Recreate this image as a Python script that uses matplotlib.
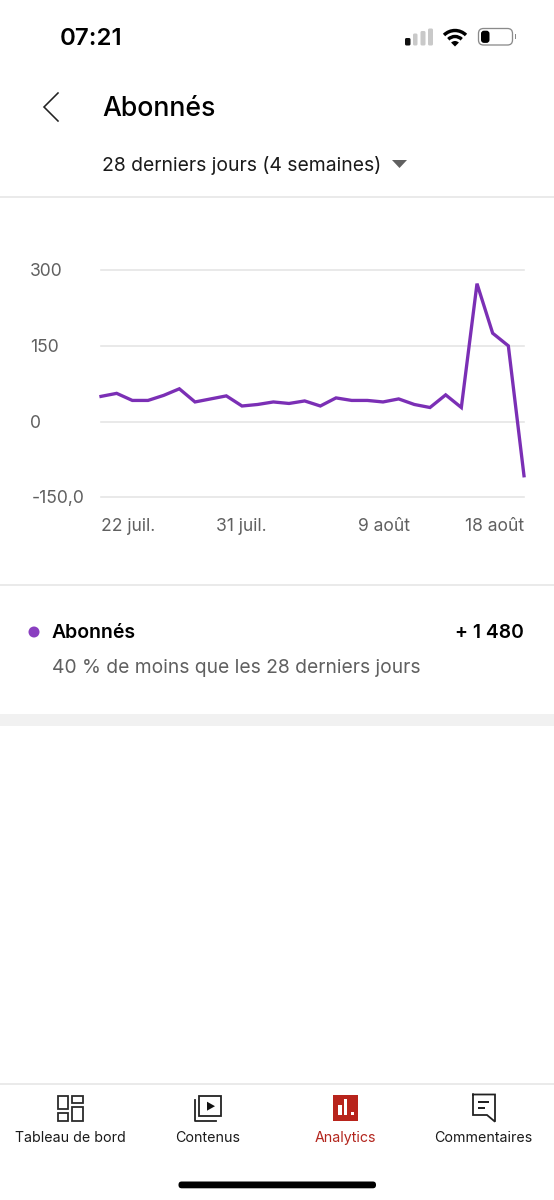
import matplotlib
matplotlib.use("Agg")
import matplotlib.pyplot as plt
from matplotlib.patches import Rectangle, FancyBboxPatch, Circle, Polygon, Wedge, Arc

# ---- data
subscribers = [50, 56, 42, 42, 52, 65, 39, 45, 51, 31, 34, 39, 36, 41,
               31, 47, 42, 42, 39, 45, 34, 28, 53, 28, 273, 175, 150, -107]
y_ticks = [-150, 0, 150, 300]
y_labels = ["-150,0", "0", "150", "300"]
x_labels = ["22 juil.", "31 juil.", "9 août", "18 août"]
x_label_px = [101, 216, 358, 465]
nav_labels = ["Tableau de bord", "Contenus", "Analytics", "Commentaires"]
nav_centers = [70, 208, 345.5, 483]

FONT = "Inter"
plt.rcParams["font.family"] = [FONT, "DejaVu Sans"]
W, H = 554, 1200
fig = plt.figure(figsize=(W/100, H/100), dpi=100, facecolor="white")

# overlay in pixel coordinates
ui = fig.add_axes([0, 0, 1, 1], zorder=1)
ui.set_xlim(0, W); ui.set_ylim(H, 0); ui.axis("off")
px = 0.72  # points per pixel

def fs(p):
    return p * px

GREY = "#606060"; RULE = "#e4e4e4"; RED = "#b3261e"

# status bar
ui.text(60, 39, "07:21", fontsize=fs(24), fontweight="semibold", color="black", va="center", ha="left")
for x, w, top, c in [(405, 5.5, 38, "#111111"), (413, 4.5, 33.5, "#c9c9c9"), (420.5, 5, 31, "#c9c9c9"), (428, 5, 28.5, "#c9c9c9")]:
    ui.add_patch(FancyBboxPatch((x, top), w, 45.5-top, boxstyle="round,pad=0,rounding_size=1.5", fc=c, ec="none"))
# wifi
for r in [15.5, 9.5]:
    ui.add_patch(Arc((455, 46), r*2, r*2, theta1=225, theta2=315, lw=3.4*px, color="black"))
ui.add_patch(Wedge((455, 46.5), 5.5, 225, 315, fc="black", ec="none"))
# battery
ui.add_patch(FancyBboxPatch((478.5, 28.5), 34, 16.5, boxstyle="round,pad=0,rounding_size=5", fc="white", ec="#8a8a8a", lw=1.3*px))
ui.add_patch(FancyBboxPatch((481, 30.7), 8.5, 12.2, boxstyle="round,pad=0,rounding_size=3", fc="black", ec="none"))
ui.add_patch(Rectangle((514.5, 34), 1.8, 5, fc="#8a8a8a", ec="none"))

# header
ui.plot([58, 44, 58], [93, 107, 121], color="#222222", lw=1.6*px, solid_joinstyle="miter")
ui.text(102, 109, "Abonnés", fontsize=fs(26.7), fontweight="medium", color="black", va="center", ha="left")
ui.text(102.5, 165.5, "28 derniers jours (4 semaines)", fontsize=fs(19.3), color="#1a1a1a", va="center", ha="left")
ui.add_patch(Polygon([(392, 160), (407, 160), (399.5, 168)], fc="#606060", ec="none"))

# rules / bands
ui.plot([0, W], [196.5, 196.5], color=RULE, lw=1.5*px)
ui.plot([0, W], [584.5, 584.5], color=RULE, lw=1.5*px)
ui.add_patch(Rectangle((0, 714), W, 11.5, fc="#f1f1f1", ec="none"))
ui.plot([0, W], [1084, 1084], color=RULE, lw=1.5*px)

# chart
x0, x1, ytop, ybot = 101, 524, 270, 497.5
ax = fig.add_axes([x0/W, 1-ybot/H, (x1-x0)/W, (ybot-ytop)/H], zorder=2)
ax.patch.set_alpha(0)
ax.plot(range(len(subscribers)), subscribers, color="#7b2fb5", lw=3.3*px, solid_joinstyle="miter", clip_on=False, zorder=3)
ax.set_xlim(0, len(subscribers)-1)
ax.set_ylim(-150, 300)
ax.set_yticks(y_ticks)
ax.set_yticklabels([])
ax.set_xticks([])
ax.yaxis.grid(True, color=RULE, lw=1.6*px)
for g in ax.get_ygridlines():
    g.set_clip_on(False)
ax.set_axisbelow(True)
ax.tick_params(length=0)
for s in ax.spines.values():
    s.set_visible(False)
for v, lab in zip(y_ticks, y_labels):
    ypx = ytop + (300-v)/450*(ybot-ytop)
    ui.text(30 if v >= 0 else 32, ypx + 1.5, lab, fontsize=fs(17.5), color=GREY, va="center", ha="left")
for xp, lab in zip(x_label_px, x_labels):
    ui.text(xp, 526.5, lab, fontsize=fs(17.5), color=GREY, va="center", ha="left")

# legend row
ui.add_patch(Circle((34, 632), 5.5, fc="#8a3fc0", ec="none"))
ui.text(51.5, 633, "Abonnés", fontsize=fs(19.5), fontweight="semibold", color="black", va="center", ha="left")
ui.text(524, 633, "+ 1 480", fontsize=fs(19.3), fontweight="semibold", color="black", va="center", ha="right")
ui.text(51.5, 668, "40 % de moins que les 28 derniers jours", fontsize=fs(19.25), color=GREY, va="center", ha="left")

# bottom nav
for lab, c in zip(nav_labels, nav_centers):
    ui.text(c, 1138, lab, fontsize=fs(14.2), color=RED if lab == "Analytics" else "#1a1a1a", va="center", ha="center")

ILW = 1.8*px
# dashboard
for (x, y, w, h) in [(57.6, 1095.7, 10.4, 13.6), (72.4, 1095.7, 10.6, 7), (57.6, 1112.7, 10.4, 8), (72.4, 1107.3, 10.6, 13.4)]:
    ui.add_patch(Rectangle((x, y), w, h, fc="none", ec="#2a2a2a", lw=ILW))
# content
ui.add_patch(Rectangle((199, 1095.7), 22, 20.3, fc="none", ec="#222222", lw=ILW))
ui.plot([195.4, 195.4, 216], [1100, 1120.7, 1120.7], color="#222222", lw=ILW)
ui.add_patch(Polygon([(207, 1101.7), (207, 1110.7), (215, 1106.2)], fc="#111111", ec="none"))
# analytics
ui.add_patch(Rectangle((332.5, 1095), 25.5, 25.7, fc="#b8241c", ec="none"))
for x, t, b in [(338.3, 1105, 1115), (344, 1099.3, 1115), (350.5, 1111.7, 1115)]:
    ui.add_patch(Rectangle((x, t), 3.2, b-t, fc="white", ec="none"))
# comments
ui.plot([473, 473, 487, 495, 495, 473], [1094.5, 1115, 1115, 1121.7, 1094.5, 1094.5], color="#222222", lw=ILW, solid_joinstyle="miter")
ui.add_patch(Rectangle((478, 1101), 11.4, 2.4, fc="#222222", ec="none"))
ui.add_patch(Rectangle((478, 1106.7), 7, 2.4, fc="#222222", ec="none"))

# home indicator
ui.add_patch(FancyBboxPatch((178.5, 1181.5), 197.5, 6.8, boxstyle="round,pad=0,rounding_size=3.2", fc="black", ec="none"))

fig.savefig("out.png", dpi=100, facecolor="white")
